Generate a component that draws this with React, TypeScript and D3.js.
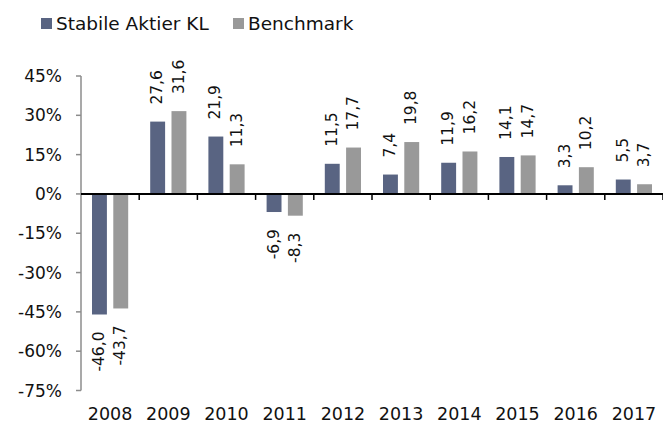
import * as d3 from "d3";

const years = ["2008", "2009", "2010", "2011", "2012", "2013", "2014", "2015", "2016", "2017"];
const seriesNames = ["Stabile Aktier KL", "Benchmark"];
const fundValues = [-46.0, 27.6, 21.9, -6.9, 11.5, 7.4, 11.9, 14.1, 3.3, 5.5];
const benchValues = [-43.7, 31.6, 11.3, -8.3, 17.7, 19.8, 16.2, 14.7, 10.2, 3.7];
const yTicks = [45, 30, 15, 0, -15, -30, -45, -60, -75];
const colors = ["#596482", "#999999"];

const W = 663;
const H = 423;
const FONT = "'DejaVu Sans', Verdana, sans-serif";

const App = () => {
  const x = d3.scaleBand().domain(years).range([81, 663]).padding(0);
  const bw = x.bandwidth();
  const x1 = d3.scaleBand().domain(seriesNames).range([11, bw - 11]).paddingInner(0.3);
  const y = d3.scaleLinear().domain([-75, 45]).range([390.5, 76]);
  const y0 = y(0);

  const rows = years.map((yr, i) => ({ yr, vals: [fundValues[i], benchValues[i]] }));
  const fmt = (v: number) => v.toFixed(1).replace(".", ",");

  return (
    <svg width={W} height={H} style={{ position: "absolute", left: 0, top: 0, fontFamily: FONT }}>
      <rect width={W} height={H} fill="#fff" />

      {/* legend */}
      {seriesNames.map((s, i) => {
        const lx = i === 0 ? 41 : 233;
        return (
          <g key={s}>
            <rect x={lx} y={18} width={11} height={11} fill={colors[i]} />
            <text x={lx + 15} y={30} fontSize={18.5} fill="#111">{s}</text>
          </g>
        );
      })}

      {/* y axis */}
      <line x1={81} x2={81} y1={y(45)} y2={y(-75)} stroke="#8c8c8c" strokeWidth={1.5} />
      {yTicks.map(t => (
        <g key={t}>
          <line x1={76} x2={81} y1={y(t)} y2={y(t)} stroke="#8c8c8c" strokeWidth={1.5} />
          <text x={62} y={y(t)} dy="0.36em" textAnchor="end" fontSize={17} fill="#111">{t}%</text>
        </g>
      ))}

      {/* bars */}
      {rows.map(r => (
        <g key={r.yr} transform={`translate(${x(r.yr)},0)`}>
          {r.vals.map((v, j) => {
            const bx = x1(seriesNames[j])!;
            const top = Math.min(y(v), y0);
            const h = Math.abs(y(v) - y0);
            const cx = bx + x1.bandwidth() / 2 - 1;
            const ly = v >= 0 ? y(v) - 17 : y(v) + 17;
            return (
              <g key={j}>
                <rect x={bx} y={top} width={x1.bandwidth()} height={h} fill={colors[j]} />
                <text
                  transform={`translate(${cx},${ly}) rotate(-90)`}
                  dy="0.36em"
                  textAnchor={v >= 0 ? "start" : "end"}
                  fontSize={15.5}
                  fill="#111"
                >
                  {fmt(v)}
                </text>
              </g>
            );
          })}
        </g>
      ))}

      {/* x axis */}
      <line x1={81} x2={663} y1={y0} y2={y0} stroke="#000" strokeWidth={2} />
      {years.map(yr => (
        <line key={yr} x1={x(yr)! + bw} x2={x(yr)! + bw} y1={y0} y2={y0 + 6} stroke="#000" strokeWidth={1.5} />
      ))}
      {years.map(yr => (
        <text key={yr} x={x(yr)! + bw / 2} y={419.5} textAnchor="middle" fontSize={17.5} fill="#111">{yr}</text>
      ))}
    </svg>
  );
};

export default App;
